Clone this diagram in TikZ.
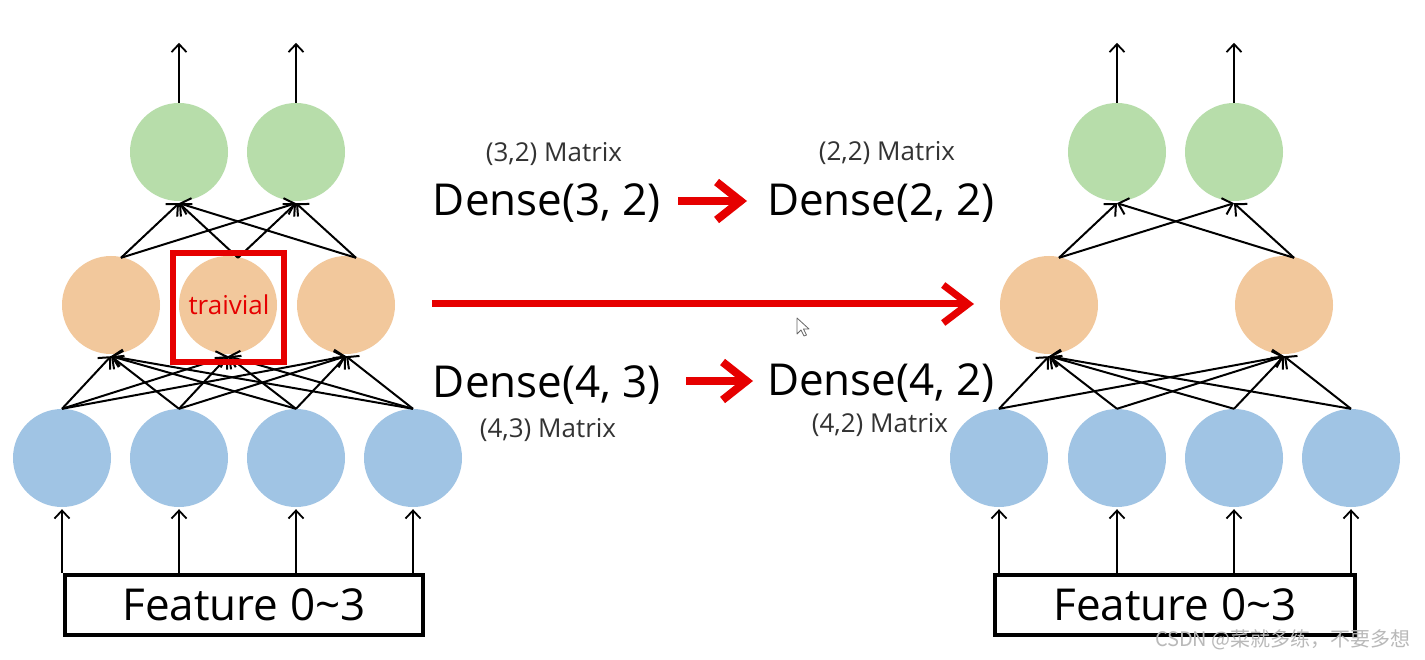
\documentclass[tikz,border=0pt]{standalone}
\usepackage{fontspec}
\setmainfont{Open Sans}
\newfontfamily\cjk{Noto Sans CJK SC}
\usetikzlibrary{arrows.meta,calc}
\definecolor{gfill}{RGB}{183,221,170}
\definecolor{ofill}{RGB}{242,200,156}
\definecolor{bfill}{RGB}{160,196,228}
\definecolor{redc}{RGB}{230,0,0}
\definecolor{wmark}{RGB}{185,185,185}
\begin{document}
\begin{tikzpicture}[x=1pt,y=-1pt,
  neuron/.style={circle, minimum size=98pt, inner sep=0pt},
  outn/.style={neuron, fill=gfill},
  hidn/.style={neuron, fill=ofill},
  inn/.style={neuron, fill=bfill},
  conn/.style={line width=2pt, -{Straight Barb[length=9pt,width=17pt]}},
  vert/.style={line width=1.8pt, -{Straight Barb[length=8pt,width=15pt]}},
  featbox/.style={draw, line width=4pt, minimum width=358pt, minimum height=60pt, inner sep=0pt, font=\fontsize{44}{50}\selectfont},
  bigtxt/.style={font=\fontsize{44}{50}\selectfont, inner sep=0pt},
  smalltxt/.style={font=\fontsize{26}{30}\selectfont, inner sep=0pt, text=black!80},
  redarrow/.style={draw=redc, line width=8pt, -{Straight Barb[length=24pt,width=38pt]}},
  longarrow/.style={draw=redc, line width=7pt, -{Straight Barb[length=25pt,width=38pt]}}
]
\useasboundingbox (0,0) rectangle (1425,660);
\fill[white] (0,0) rectangle (1425,660);

% ---------- left network ----------
\node[inn] (la1) at (62,458) {};
\node[inn] (la2) at (179,458) {};
\node[inn] (la3) at (296,458) {};
\node[inn] (la4) at (413,458) {};
\node[hidn] (lh1) at (111,305) {};
\node[hidn] (lh2) at (228,305) {};
\node[hidn] (lh3) at (346,305) {};
\node[outn] (lo1) at (179,152) {};
\node[outn] (lo2) at (296,152) {};

\node[featbox] (lf) at (244,605) {Feature 0\textasciitilde3};

\foreach \i in {1,2,3,4}{
  \draw[vert] (la\i |- lf.north) -- ($(la\i.south)+(0,2)$);
  \foreach \j in {1,2,3}{
    \draw[conn] (la\i.north) -- ($(lh\j.south)+(0,2)$);
  }
}
\foreach \j in {1,2,3}{
  \foreach \k in {1,2}{
    \draw[conn] ($(lh\j.north)+(10,2)$) -- ($(lo\k.south)+(0,2)$);
  }
}
\foreach \k in {1,2}{
  \coordinate (lt\k) at ($(lo\k.north)+(0,-60)$);
  \draw[vert] (lo\k.north) -- (lt\k);
}

\node[draw=redc, line width=6pt, minimum width=111pt, minimum height=109pt, inner sep=0pt] (triv) at (228.5,307.5) {};
\node[text=redc, font=\fontsize{26}{30}\selectfont, inner sep=0pt] (trivt) at (229,305) {traivial};

% ---------- right network ----------
\node[inn] (ra1) at (999,458) {};
\node[inn] (ra2) at (1117,458) {};
\node[inn] (ra3) at (1234,458) {};
\node[inn] (ra4) at (1351,458) {};
\node[hidn] (rh1) at (1049,305) {};
\node[hidn] (rh2) at (1284,305) {};
\node[outn] (ro1) at (1117,152) {};
\node[outn] (ro2) at (1234,152) {};

\node[featbox, minimum width=360pt] (rf) at (1175,605) {Feature 0\textasciitilde3};

\foreach \i in {1,2,3,4}{
  \draw[vert] (ra\i |- rf.north) -- ($(ra\i.south)+(0,2)$);
  \foreach \j in {1,2}{
    \draw[conn] (ra\i.north) -- ($(rh\j.south)+(0,2)$);
  }
}
\foreach \j in {1,2}{
  \foreach \k in {1,2}{
    \draw[conn] ($(rh\j.north)+(10,2)$) -- ($(ro\k.south)+(0,2)$);
  }
}
\foreach \k in {1,2}{
  \coordinate (rt\k) at ($(ro\k.north)+(0,-60)$);
  \draw[vert] (ro\k.north) -- (rt\k);
}

% ---------- middle texts ----------
\node[smalltxt] (m32) at (554,154) {(3,2) Matrix};
\node[smalltxt] (m22) at (887,153) {(2,2) Matrix};
\node[bigtxt] (d32) at (547,203) {Dense(3, 2)};
\node[bigtxt] (d22) at (881,203) {Dense(2, 2)};
\node[bigtxt] (d43) at (547,385) {Dense(4, 3)};
\node[bigtxt] (d42) at (881,383) {Dense(4, 2)};
\node[smalltxt] (m43) at (548,430) {(4,3) Matrix};
\node[smalltxt] (m42) at (880,425) {(4,2) Matrix};

\coordinate (a1s) at (678,201);
\coordinate (a1e) at (747,201);
\coordinate (a2s) at (686,381);
\coordinate (a2e) at (753,381);
\coordinate (a3s) at (432,304);
\coordinate (a3e) at (974,304);
\draw[redarrow] (a1s) -- (a1e);
\draw[redarrow] (a2s) -- (a2e);
\draw[longarrow] (a3s) -- (a3e);

% mouse cursor
\draw[fill=white, draw=black!60, line width=0.8pt, line join=round]
  (797,318) -- (797,334) -- (801,330) -- (804,336) -- (806.5,335) -- (803.5,329) -- (809,329) -- cycle;

% watermark
\node[anchor=east, text=wmark, font=\cjk\fontsize{20}{24}\selectfont, inner sep=0pt] (wm) at (1411,640) {CSDN @菜就多练，不要多想};
\end{tikzpicture}
\end{document}
